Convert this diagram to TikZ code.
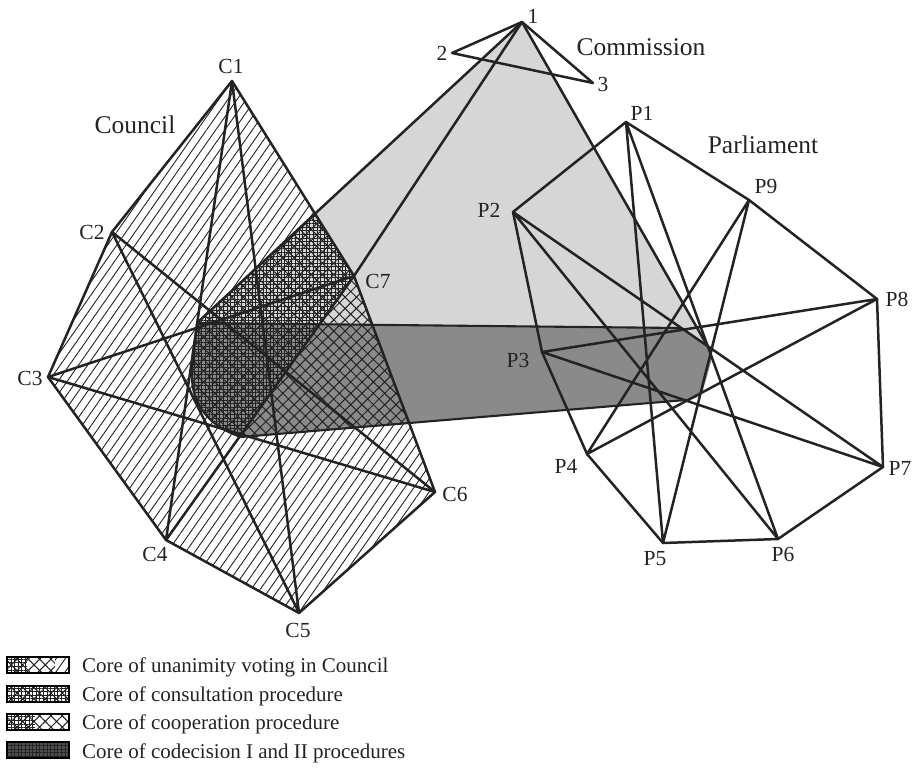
\documentclass[tikz,border=0pt]{standalone}
\usepackage{fontspec}
\setmainfont{Liberation Serif}
\usetikzlibrary{patterns.meta}
\definecolor{ink}{RGB}{35,35,35}
\definecolor{lgray}{RGB}{214,214,214}
\definecolor{dgray}{RGB}{138,138,138}
\definecolor{vdgray}{RGB}{80,80,80}
\tikzset{
  edge/.style={draw=ink,line width=2.5pt,line join=round,line cap=round},
  vlabel/.style={font=\fontsize{21.5}{24}\selectfont,text=ink,inner sep=0pt},
  glabel/.style={font=\fontsize{25.5}{28}\selectfont,text=ink,inner sep=0pt},
  legtext/.style={font=\fontsize{21}{24}\selectfont,text=ink,anchor=base west,inner sep=0pt},
  hatchC/.style={pattern={Lines[angle=55,distance=7.5pt,line width=0.9pt]},pattern color=ink},
  crossXX/.style={pattern={Hatch[angle=45,distance=8pt,line width=1pt]},pattern color=ink},
  gridfine/.style={pattern={Hatch[angle=0,distance=3.6pt,line width=0.6pt]},pattern color=ink},
  swatch/.style={draw=black,line width=1.6pt}
}
\begin{document}
\begin{tikzpicture}[x=1pt,y=-1pt]
\useasboundingbox (0,0) rectangle (915,778);
% Commission
\coordinate (K1) at (522,22);
\coordinate (K2) at (452,53);
\coordinate (K3) at (593,83);
% Council
\coordinate (C1) at (232,81);
\coordinate (C2) at (112,232);
\coordinate (C3) at (48,377);
\coordinate (C4) at (166,540);
\coordinate (C5) at (299,613);
\coordinate (C6) at (435,492);
\coordinate (C7) at (354,276);
% Parliament
\coordinate (P1) at (626,122);
\coordinate (P2) at (513,212);
\coordinate (P3) at (542,352);
\coordinate (P4) at (587,454);
\coordinate (P5) at (663,543);
\coordinate (P6) at (778,539);
\coordinate (P7) at (883,467);
\coordinate (P8) at (877,299);
\coordinate (P9) at (749,200);
% core helpers
\coordinate (L) at (197,323);
\coordinate (S) at (315,213.7);
\coordinate (R) at (708,347);
\coordinate (BT) at (680,328);
\coordinate (BL) at (241,437);
\coordinate (BB) at (686,400);
\coordinate (Q) at (409,423);

% council hull hatch
\fill[white] (C1)--(C2)--(C3)--(C4)--(C5)--(C6)--(C7)--cycle;
\path[hatchC] (C1)--(C2)--(C3)--(C4)--(C5)--(C6)--(C7)--cycle;
% commission light triangle
\fill[lgray] (K1) -- (L) -- (BT) -- (R) -- cycle;
% codecision band
\fill[dgray] (L) -- (BT) -- (R) .. controls (713,352) .. (711,362) -- (703,390) .. controls (698,398) .. (BB) -- (BL) .. controls (205,425) and (190,400) .. (192,370) -- cycle;
% unanimity (XX) region
\path[crossXX] (L) -- (S) -- (C7) -- (Q) -- (BL) .. controls (205,425) and (190,400) .. (192,370) -- cycle;
% fine grid region
\path[gridfine] (L) -- (S) -- (C7) -- (BL) .. controls (205,425) and (190,400) .. (192,370) -- cycle;

% band outline
\draw[edge,line width=2.1pt] (BT) -- (L) -- (192,370) .. controls (190,400) and (205,425) .. (BL) -- (BB);

% commission edges
\draw[edge] (K1) -- (K2) -- (K3) -- cycle;
\draw[edge] (K1) -- (L);
\draw[edge] (K1) -- (C7);
\draw[edge] (K1) -- (R);

% council edges
\draw[edge] (C1)--(C2)--(C3)--(C4)--(C5)--(C6)--(C7)--cycle;
\draw[edge] (C1)--(C4) (C1)--(C5) (C2)--(C5) (C2)--(C6) (C3)--(C6) (C3)--(C7) (C4)--(C7);

% parliament edges
\draw[edge] (P1)--(P2)--(P3)--(P4)--(P5)--(P6)--(P7)--(P8)--(P9)--cycle;
\draw[edge] (P1)--(P5) (P1)--(P6) (P2)--(P6) (P2)--(P7) (P3)--(P7) (P3)--(P8) (P4)--(P8) (P4)--(P9) (P5)--(P9);

% labels
\node[vlabel] (l1) at (533,16) {1};
\node[vlabel] (l2) at (442,53) {2};
\node[vlabel] (l3) at (603,84) {3};
\node[glabel] (lcom) at (641,47) {Commission};
\node[vlabel] (lC1) at (231,66) {C1};
\node[glabel] (lcou) at (135,125) {Council};
\node[vlabel] (lC2) at (92,232) {C2};
\node[vlabel] (lC3) at (30,378) {C3};
\node[vlabel] (lC4) at (155,554) {C4};
\node[vlabel] (lC5) at (298,630) {C5};
\node[vlabel] (lC6) at (455,494) {C6};
\node[vlabel] (lC7) at (378,281) {C7};
\node[vlabel] (lP1) at (642,113) {P1};
\node[glabel] (lpar) at (763,145) {Parliament};
\node[vlabel] (lP9) at (766,186) {P9};
\node[vlabel] (lP8) at (897,299) {P8};
\node[vlabel] (lP2) at (489,210) {P2};
\node[vlabel] (lP3) at (518,360) {P3};
\node[vlabel] (lP4) at (566,466) {P4};
\node[vlabel] (lP5) at (655,559) {P5};
\node[vlabel] (lP6) at (783,554) {P6};
\node[vlabel] (lP7) at (900,468) {P7};

% legend swatches
% 1 unanimity
\fill[white] (7,657) rectangle (69,673);
\path[gridfine] (7,657) rectangle (27,673);
\path[crossXX] (7,657) rectangle (55,673);
\path[hatchC] (55,657) rectangle (69,673);
\draw[swatch] (7,657) rectangle (69,673);
% 2 consultation
\fill[white] (7,686) rectangle (69,702);
\path[gridfine] (7,686) rectangle (69,702);
\path[crossXX] (7,686) rectangle (69,702);
\draw[swatch] (7,686) rectangle (69,702);
% 3 cooperation
\fill[white] (7,714) rectangle (69,730);
\path[gridfine] (7,714) rectangle (35,730);
\path[crossXX] (7,714) rectangle (69,730);
\draw[swatch] (7,714) rectangle (69,730);
% 4 codecision
\fill[vdgray] (7,742) rectangle (69,758);
\path[gridfine] (7,742) rectangle (69,758);
\draw[swatch] (7,742) rectangle (69,758);

\node[legtext] (t1) at (82,672) {Core of unanimity voting in Council};
\node[legtext] (t2) at (82,701) {Core of consultation procedure};
\node[legtext] (t3) at (82,729) {Core of cooperation procedure};
\node[legtext] (t4) at (82,758) {Core of codecision I and II procedures};
\end{tikzpicture}
\end{document}
